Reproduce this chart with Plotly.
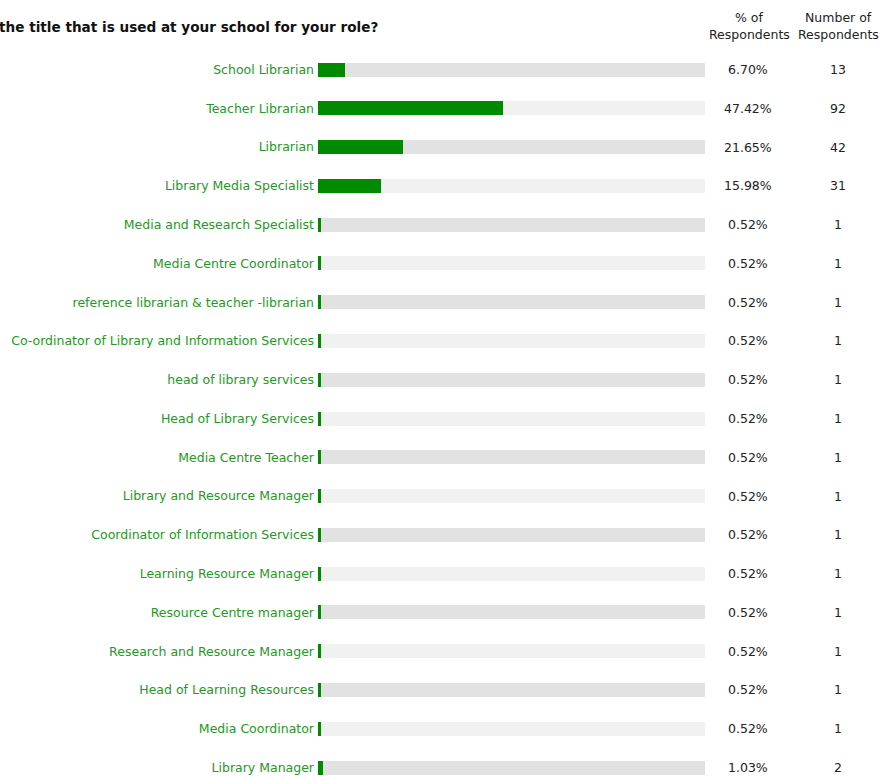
import plotly.graph_objects as go

title = "the title that is used at your school for your role?"
categories = [
    "School Librarian", "Teacher Librarian", "Librarian", "Library Media Specialist",
    "Media and Research Specialist", "Media Centre Coordinator",
    "reference librarian & teacher -librarian",
    "Co-ordinator of Library and Information Services",
    "head of library services", "Head of Library Services", "Media Centre Teacher",
    "Library and Resource Manager", "Coordinator of Information Services",
    "Learning Resource Manager", "Resource Centre manager",
    "Research and Resource Manager", "Head of Learning Resources",
    "Media Coordinator", "Library Manager",
]
percent = [6.70, 47.42, 21.65, 15.98, 0.52, 0.52, 0.52, 0.52, 0.52, 0.52,
           0.52, 0.52, 0.52, 0.52, 0.52, 0.52, 0.52, 0.52, 1.03]
counts = [13, 92, 42, 31, 1, 1, 1, 1, 1, 1, 1, 1, 1, 1, 1, 1, 1, 1, 2]
header_pct = ["% of", "Respondents"]
header_num = ["Number of", "Respondents"]

W, H = 888, 776
x0, x1 = 318, 705
row0, rowN = 69.5, 767.5
step = (rowN - row0) / (len(categories) - 1)
bar_px = 14
FONT = "DejaVu Sans"
FS = 12.5

track_colors = ["#e2e2e2" if i % 2 == 0 else "#f1f1f1" for i in range(len(categories))]

fig = go.Figure()
fig.add_trace(go.Bar(
    x=[100] * len(categories), y=categories, orientation="h",
    marker=dict(color=track_colors, line=dict(width=0)),
    width=bar_px / step, hoverinfo="skip", showlegend=False,
))
fig.add_trace(go.Bar(
    x=percent, y=categories, orientation="h",
    marker=dict(color="#008a00", line=dict(color="#008a00", width=2)),
    width=(bar_px - 2) / step, showlegend=False,
))

annotations = []
for cat, p, c in zip(categories, percent, counts):
    annotations.append(dict(x=748 / W, y=cat, xref="paper", yref="y",
                            xanchor="center", yanchor="middle",
                            text=f"{p:.2f}%", showarrow=False,
                            font=dict(family=FONT, size=FS, color="#222")))
    annotations.append(dict(x=838 / W, y=cat, xref="paper", yref="y",
                            xanchor="center", yanchor="middle",
                            text=str(c), showarrow=False,
                            font=dict(family=FONT, size=FS, color="#222")))
annotations.append(dict(x=0, y=1 - 27 / H, xref="paper", yref="paper",
                        xanchor="left", yanchor="middle", borderpad=0, xshift=-2,
                        text=f"<b>{title}</b>", showarrow=False,
                        font=dict(family=FONT, size=13.6, color="#111")))
for line, ypx in zip(header_pct, [17, 35]):
    annotations.append(dict(x=749 / W, y=1 - ypx / H, xref="paper", yref="paper",
                            xanchor="center", yanchor="middle", text=line, showarrow=False,
                            font=dict(family=FONT, size=FS, color="#222")))
for line, ypx in zip(header_num, [17, 35]):
    annotations.append(dict(x=838 / W, y=1 - ypx / H, xref="paper", yref="paper",
                            xanchor="center", yanchor="middle", text=line, showarrow=False,
                            font=dict(family=FONT, size=FS, color="#222")))

ytop = -row0 / step
ybot = (H - row0) / step

fig.update_layout(
    width=W, height=H, margin=dict(l=0, r=0, t=0, b=0),
    paper_bgcolor="white", plot_bgcolor="white",
    barmode="overlay", bargap=0,
    font=dict(family=FONT, size=FS),
    xaxis=dict(domain=[x0 / W, x1 / W], range=[0, 100], visible=False, fixedrange=True),
    yaxis=dict(type="category", categoryarray=categories, range=[ybot, ytop],
               showgrid=False, zeroline=False, showline=False, ticks="",
               ticklabelstandoff=3, fixedrange=True,
               tickfont=dict(family=FONT, size=FS, color="#249824")),
    annotations=annotations,
)
fig.write_html("out.html", config={"displayModeBar": False},
               post_script="document.body.style.margin='0';document.body.style.overflow='hidden';")
